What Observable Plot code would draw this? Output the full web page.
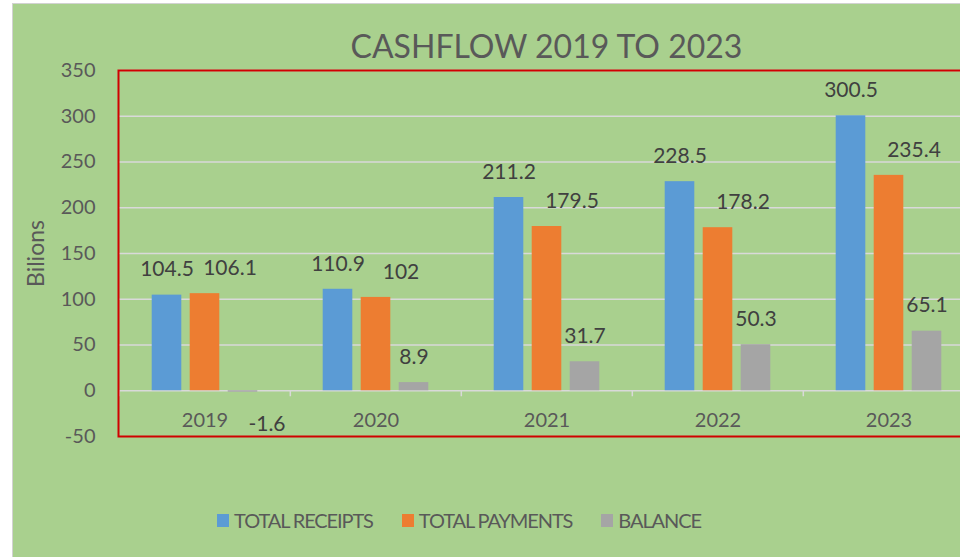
<!DOCTYPE html>
<html>
<head>
<meta charset="utf-8">
<script src="https://cdn.jsdelivr.net/npm/d3@7"></script>
<script src="https://cdn.jsdelivr.net/npm/@observablehq/plot@0.6"></script>
<style>
html,body{margin:0;padding:0;background:#fff;overflow:hidden;}
#wrap{position:relative;width:960px;height:557px;overflow:hidden;font-family:Lato,"Open Sans",sans-serif;}
#bg{position:absolute;left:12px;top:3px;right:0;bottom:0;background:#a9d08e;border-left:1px solid #d2d2d2;border-top:1px solid #d2d2d2;}
#chart{position:absolute;left:0;top:0;}
#chart svg{background:transparent !important;overflow:hidden;}
#title{position:absolute;left:0;top:30px;width:1093px;text-align:center;font-size:32px;line-height:32px;color:#595959;white-space:nowrap;}
#legend{position:absolute;left:0;top:510px;width:918px;display:flex;justify-content:center;gap:29px;font-size:20px;line-height:20px;color:#595959;letter-spacing:-1.1px;}
#legend .item{display:flex;align-items:center;white-space:nowrap;}
#legend .sw{width:12px;height:13px;margin-right:5px;}
</style>
</head>
<body>
<div id="wrap">
  <div id="bg"></div>
  <div id="title">CASHFLOW 2019 TO 2023</div>
  <div id="chart"></div>
  <div id="legend"></div>
</div>
<script>
// ---- data ----
const years = ["2019", "2020", "2021", "2022", "2023"];
const seriesNames = ["TOTAL RECEIPTS", "TOTAL PAYMENTS", "BALANCE"];
const receipts = [104.5, 110.9, 211.2, 228.5, 300.5];
const payments = [106.1, 102, 179.5, 178.2, 235.4];
const balance = [-1.6, 8.9, 31.7, 50.3, 65.1];
const yTicks = [-50, 0, 50, 100, 150, 200, 250, 300, 350];
const yTitle = "Bilions";

// ---- styles ----
const colors = ["#5b9bd5", "#ed7d31", "#a5a5a5"];
const seriesValues = [receipts, payments, balance];
const data = seriesValues.flatMap((vals, k) =>
  years.map((yr, i) => ({year: yr, series: seriesNames[k], k, value: vals[i]})));

const W = 960, H = 557;
const x0 = 118, x1 = 975;
const bw = (x1 - x0) / years.length;
const barW = 30, step = 38;
const labelShift = [0, 25, 0];
const font = "Lato, 'Open Sans', sans-serif";

function insets(k) {
  const c = bw / 2 + (k - 1) * step;
  return {insetLeft: c - barW / 2, insetRight: bw - c - barW / 2};
}

const marks = [];
// gridlines
marks.push(Plot.ruleY(yTicks.filter(d => d > 0), {y: d => d, stroke: "#d9d9d9", strokeWidth: 1.5}));
marks.push(Plot.ruleY([0], {y: d => d, stroke: "#d9d9d9", strokeWidth: 1.5}));
// category boundary ticks
marks.push(Plot.ruleX(years, {x: d => d, y1: 0, y2: 0, dx: -bw / 2, insetBottom: -6, stroke: "#d9d9d9", strokeWidth: 1.5}));
// bars
seriesNames.forEach((s, k) => {
  marks.push(Plot.barY(data.filter(d => d.k === k), {x: "year", y: "value", fill: colors[k], ...insets(k)}));
});
// labels
seriesNames.forEach((s, k) => {
  const off = (k - 1) * step;
  marks.push(Plot.text(data.filter(d => d.k === k && d.value >= 0), {
    x: "year", y: "value", text: d => String(d.value), dx: off + labelShift[k], dy: -25.5,
    fill: "#404040", fontSize: 21, fontFamily: font
  }));
  marks.push(Plot.text(data.filter(d => d.k === k && d.value < 0), {
    x: "year", y: "value", text: d => String(d.value), dx: off + 24, dy: 32,
    fill: "#404040", fontSize: 21, fontFamily: font
  }));
});
// axes
marks.push(Plot.axisY({ticks: yTicks, tickFormat: d => String(d), anchor: "left", tickSize: 0, tickPadding: 23, label: null, fill: "#595959", fontSize: 20, fontFamily: font}));
marks.push(Plot.axisX({anchor: "bottom", tickSize: 0, dy: -33, label: null, fill: "#595959", fontSize: 20, fontFamily: font}));
marks.push(Plot.text([yTitle], {frameAnchor: "left", textAnchor: "middle", dx: -82, rotate: -90, text: d => d, fill: "#595959", fontSize: 23, fontFamily: font}));
// plot area border
marks.push(Plot.frame({stroke: "#d00000", strokeWidth: 2}));

const svg = Plot.plot({
  width: W, height: H,
  marginLeft: 118, marginRight: -20, marginTop: 70, marginBottom: 121,
  x: {type: "band", domain: years, range: [x0, x1], padding: 0},
  y: {domain: [-50, 350]},
  style: {background: "transparent", fontFamily: font, overflow: "hidden", maxWidth: "none"},
  marks
});
document.getElementById("chart").appendChild(svg);

// legend
const lg = document.getElementById("legend");
seriesNames.forEach((s, k) => {
  const it = document.createElement("div");
  it.className = "item";
  const sw = document.createElement("div");
  sw.className = "sw";
  sw.style.background = colors[k];
  const t = document.createElement("span");
  t.textContent = s;
  it.appendChild(sw); it.appendChild(t);
  lg.appendChild(it);
});
</script>
</body>
</html>
